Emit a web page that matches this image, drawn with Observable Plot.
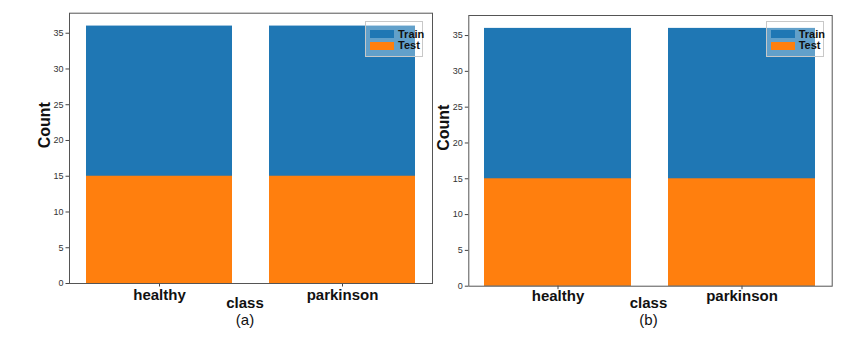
<!DOCTYPE html>
<html>
<head>
<meta charset="utf-8">
<script src="https://cdn.jsdelivr.net/npm/d3@7"></script>
<script src="https://cdn.jsdelivr.net/npm/@observablehq/plot@0.6"></script>
<style>
  html, body { margin: 0; padding: 0; background: #fff; }
  #wrap { position: relative; width: 858px; height: 339px; overflow: hidden; font-family: "Liberation Sans", Arial, sans-serif; }
  .panel { position: absolute; top: 0; }
  .panel svg { overflow: visible; }
  g[aria-label="x-axis tick label"] text { font-weight: bold; fill: #111; }
  g[aria-label="y-axis tick label"] text { fill: #333; }
  .legend { position: absolute; width: 58px; height: 36px; box-sizing: border-box;
            border: 1px solid #c8c8c8; background: rgba(255,255,255,0.3); }
  .legend .row { position: absolute; left: 4px; height: 9px; display: flex; align-items: center; }
  .legend .sw { width: 24px; height: 8px; margin-right: 4px; }
  .legend .lab { font-size: 11px; font-weight: bold; color: #111; line-height: 9px; }
</style>
</head>
<body>
<div id="wrap"></div>
<script>
const categories = ["healthy", "parkinson"];
const trainCounts = [36, 36];
const testCounts = [15, 15];
const yTicks = [0, 5, 10, 15, 20, 25, 30, 35];
const seriesNames = ["Train", "Test"];
const seriesColors = ["#1f77b4", "#ff7f0e"];
const panelLabels = ["(a)", "(b)"];
const xTitle = "class";
const yTitle = "Count";

const rows = categories.map((c, i) => ({cls: c, train: trainCounts[i], test: testCounts[i]}));

const panels = [
  {left: 0, width: 440, mt: 12.7, mb: 56, ml: 69, mr: 8, tickPad: 2.5, classDx: -6, classDy: 20, labDy: 37, legLeft: 365, legTop: 21},
  {left: 430, width: 428, mt: 15, mb: 53.3, ml: 38.3, mr: 26.3, tickPad: 0.5, classDx: -2, classDy: 17, labDy: 33.6, legLeft: 765.7, legTop: 21}
];

const wrap = document.getElementById("wrap");

panels.forEach((p, k) => {
  const chart = Plot.plot({
    width: p.width,
    height: 339,
    marginTop: p.mt,
    marginBottom: p.mb,
    marginLeft: p.ml,
    marginRight: p.mr,
    style: {fontFamily: '"Liberation Sans", Arial, sans-serif', background: "transparent"},
    x: {domain: categories, paddingInner: 0.2, paddingOuter: 0.087},
    y: {domain: [0, 37.8]},
    marks: [
      Plot.barY(rows, {x: "cls", y: "train", fill: seriesColors[0]}),
      Plot.barY(rows, {x: "cls", y: "test", fill: seriesColors[1]}),
      Plot.axisY({ticks: yTicks, tickSize: 3.5, tickPadding: 2.5, fontSize: 9, label: null, stroke: "#444"}),
      Plot.axisX({tickSize: 3.5, tickPadding: p.tickPad, fontSize: 15, label: null, stroke: "#444"}),
      Plot.frame({stroke: "#555", strokeWidth: 1}),
      Plot.text([yTitle], {frameAnchor: "left", rotate: -90, dx: -25, fontSize: 16, fontWeight: "bold", fill: "#111"}),
      Plot.text([xTitle], {frameAnchor: "bottom", dx: p.classDx, dy: p.classDy, fontSize: 15, fontWeight: "bold", fill: "#111", lineAnchor: "middle"}),
      Plot.text([panelLabels[k]], {frameAnchor: "bottom", dx: p.classDx, dy: p.labDy, fontSize: 15, fill: "#111", lineAnchor: "middle"})
    ]
  });
  const div = document.createElement("div");
  div.className = "panel";
  div.style.left = p.left + "px";
  div.appendChild(chart);
  wrap.appendChild(div);

  const leg = document.createElement("div");
  leg.className = "legend";
  leg.style.left = p.legLeft + "px";
  leg.style.top = p.legTop + "px";
  seriesNames.forEach((name, j) => {
    const r = document.createElement("div");
    r.className = "row";
    r.style.top = (j === 0 ? 7.5 : 19) + "px";
    const sw = document.createElement("div");
    sw.className = "sw";
    sw.style.background = seriesColors[j];
    const lab = document.createElement("span");
    lab.className = "lab";
    lab.textContent = name;
    r.appendChild(sw);
    r.appendChild(lab);
    leg.appendChild(r);
  });
  wrap.appendChild(leg);
});
</script>
</body>
</html>
